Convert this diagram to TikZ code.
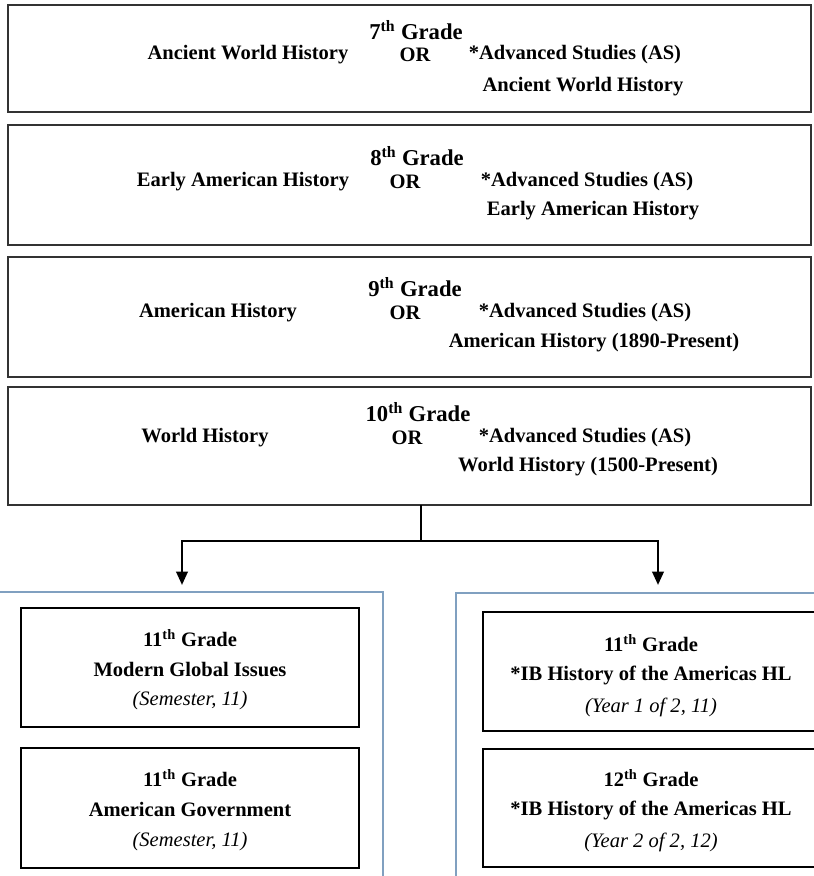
\documentclass[tikz,border=0pt]{standalone}
\usepackage{fontspec}
\setmainfont{Liberation Serif}
\usepackage{tikz}
\usepackage{xcolor}
\usetikzlibrary{arrows.meta}

\definecolor{trackblue}{RGB}{128,160,192}
\newcommand{\pxu}{0.75pt}
\newcommand{\grd}[2]{#1\textsuperscript{#2} Grade}

\begin{document}
\begin{tikzpicture}[>={Triangle[length=10pt,width=8.5pt]}, x=0.75pt, y=-0.75pt, semithick,
		gradebox/.style={draw=black!80, line width=1.8pt, inner sep=0pt, outer sep=0pt},
		trackbox/.style={draw=trackblue, line width=1.1pt, inner sep=0pt, outer sep=0pt},
		coursebox/.style={draw=black, line width=1.6pt, inner sep=0pt, outer sep=0pt},
		head/.style={font=\fontsize{17}{20}\selectfont\bfseries, inner sep=0pt},
		txt/.style={font=\fontsize{15.4}{18}\selectfont\bfseries, inner sep=0pt},
		note/.style={font=\fontsize{15.4}{18}\selectfont\itshape, inner sep=0pt}]
		\useasboundingbox (0,0) rectangle (814,876);
		\clip (0,0) rectangle (814,876);
		% grade boxes
		\node[gradebox, minimum width=803*\pxu, minimum height=107*\pxu] (g7) at (409.5,58.5) {};
		\node[gradebox, minimum width=803*\pxu, minimum height=120*\pxu] (g8) at (409.5,185) {};
		\node[gradebox, minimum width=803*\pxu, minimum height=120*\pxu] (g9) at (409.5,317) {};
		\node[gradebox, minimum width=803*\pxu, minimum height=118*\pxu] (g10) at (409.5,446) {};
		\node[head] (g7t) at (416, 30) {\grd{7}{th}};
		\node[txt] (g7a) at (248, 55) {Ancient World History};
		\node[txt] (g7or) at (415, 55) {OR};
		\node[txt] (g7b) at (575, 55) {*Advanced Studies (AS)};
		\node[txt] (g7c) at (583, 87) {Ancient World History};
		\node[head] (g8t) at (417, 156) {\grd{8}{th}};
		\node[txt] (g8a) at (243, 182) {Early American History};
		\node[txt] (g8or) at (405, 182) {OR};
		\node[txt] (g8b) at (587, 182) {*Advanced Studies (AS)};
		\node[txt] (g8c) at (593, 211) {Early American History};
		\node[head] (g9t) at (415, 287) {\grd{9}{th}};
		\node[txt] (g9a) at (218, 313) {American History};
		\node[txt] (g9or) at (405, 313) {OR};
		\node[txt] (g9b) at (585, 313) {*Advanced Studies (AS)};
		\node[txt] (g9c) at (594, 343) {American History (1890-Present)};
		\node[head] (g10t) at (418, 412) {\grd{10}{th}};
		\node[txt] (g10a) at (205, 438) {World History};
		\node[txt] (g10or) at (407, 438) {OR};
		\node[txt] (g10b) at (585, 438) {*Advanced Studies (AS)};
		\node[txt] (g10c) at (588, 467) {World History (1500-Present)};
		% the two tracks
		\node[trackbox, minimum width=385*\pxu, minimum height=298*\pxu] (lt) at (190.5,741) {};
		\node[trackbox, minimum width=384*\pxu, minimum height=297*\pxu] (rt) at (648,741.5) {};
		\node[coursebox, minimum width=338*\pxu, minimum height=119*\pxu] (mgi) at (190,667.5) {};
		\node[coursebox, minimum width=338*\pxu, minimum height=120*\pxu] (gov) at (190,808) {};
		\node[coursebox, minimum width=348*\pxu, minimum height=119*\pxu] (ib1) at (657,671.5) {};
		\node[coursebox, minimum width=348*\pxu, minimum height=118*\pxu] (ib2) at (657,808) {};
		\node[txt] (mgit) at (190, 638) {\grd{11}{th}};
		\node[txt] (mgia) at (190, 669) {Modern Global Issues};
		\node[note] (mgib) at (190, 701) {(Semester, 11)};
		\node[txt] (govt) at (190, 778) {\grd{11}{th}};
		\node[txt] (gova) at (190, 809) {American Government};
		\node[note] (govb) at (190, 842) {(Semester, 11)};
		\node[txt] (ib1t) at (651, 643) {\grd{11}{th}};
		\node[txt] (ib1a) at (651, 675) {*IB History of the Americas HL};
		\node[note] (ib1b) at (651, 707) {(Year 1 of 2, 11)};
		\node[txt] (ib2t) at (651, 778) {\grd{12}{th}};
		\node[txt] (ib2a) at (651, 810) {*IB History of the Americas HL};
		\node[note] (ib2b) at (651, 842) {(Year 2 of 2, 12)};
		% connectors
		\coordinate (fork) at (421, 541);
		\coordinate (la) at (182, 585);
		\coordinate (ra) at (658, 585);
		\draw[line width=1.9pt] (fork |- g10.south) to (fork);
		\draw[line width=1.9pt, ->] (fork) -| (la);
		\draw[line width=1.9pt, ->] (fork) -| (ra);
    \end{tikzpicture}
\end{document}
